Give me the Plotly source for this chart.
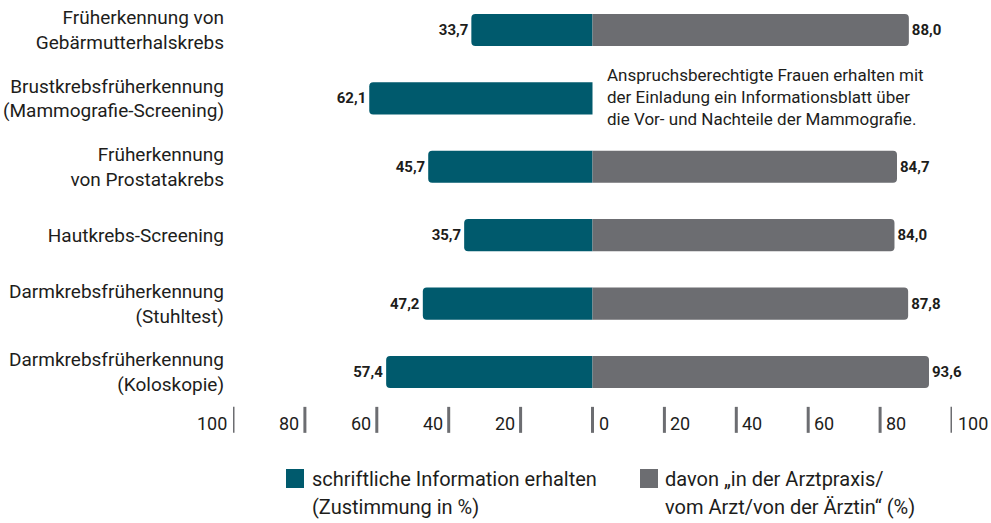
import plotly.graph_objects as go

categories = [
    "Früherkennung von<br>Gebärmutterhalskrebs",
    "Brustkrebsfrüherkennung<br>(Mammografie-Screening)",
    "Früherkennung<br>von Prostatakrebs",
    "Hautkrebs-Screening",
    "Darmkrebsfrüherkennung<br>(Stuhltest)",
    "Darmkrebsfrüherkennung<br>(Koloskopie)",
]
written_info = [33.7, 62.1, 45.7, 35.7, 47.2, 57.4]
in_practice = [88.0, None, 84.7, 84.0, 87.8, 93.6]
tick_values = [-100, -80, -60, -40, -20, 0, 20, 40, 60, 80, 100]
legend_lines = [["schriftliche Information erhalten", "(Zustimmung in %)"],
                ["davon „in der Arztpraxis/", "vom Arzt/von der Ärztin“ (%)"]]
note_text = ("Anspruchsberechtigte Frauen erhalten mit<br>"
             "der Einladung ein Informationsblatt über<br>"
             "die Vor- und Nachteile der Mammografie.")

TEAL = "#005a6d"
GRAY = "#6c6d71"
TXT = "#1d1d1b"
FONT = "Roboto, sans-serif"

W, H = 991, 523
L, R = 233, 952


def fmt(v):
    return "" if v is None else f"{v:.1f}".replace(".", ",")


def px(x):
    return (x - L) / (R - L)


def py(y):
    return 1 - y / H


rows = list(range(len(categories)))

fig = go.Figure()
fig.add_trace(go.Bar(
    y=rows, x=[-v for v in written_info], orientation="h",
    marker=dict(color=TEAL, cornerradius=4, line=dict(width=0)),
    width=0.47, name="schriftliche Information erhalten",
    text=[fmt(v) for v in written_info], textposition="outside",
    textfont=dict(family=FONT, size=15, color=TXT, weight="bold"),
    cliponaxis=False, showlegend=False, hoverinfo="skip",
))
fig.add_trace(go.Bar(
    y=rows, x=in_practice, orientation="h",
    marker=dict(color=GRAY, cornerradius=4, line=dict(width=0)),
    width=0.47, name="davon in der Arztpraxis",
    text=[fmt(v) for v in in_practice], textposition="outside",
    textfont=dict(family=FONT, size=15, color=TXT, weight="bold"),
    cliponaxis=False, showlegend=False, hoverinfo="skip",
))

# custom axis ticks (vertical bars with labels beside them)
tick_y0, tick_y1, tick_lab = 5.51, 5.89, 5.75
for v in tick_values:
    fig.add_shape(type="line", xref="x", yref="y", x0=v, x1=v,
                  y0=tick_y0, y1=tick_y1, line=dict(color=GRAY, width=3))
    neg = v < 0
    fig.add_annotation(x=v, y=tick_lab, xref="x", yref="y", text=str(abs(v)),
                       showarrow=False, xanchor="right" if neg else "left",
                       xshift=-4 if neg else 4,
                       font=dict(family=FONT, size=18, color=TXT))

# note for mammography row
fig.add_annotation(x=px(605), y=py(63), xref="paper", yref="paper",
                   text=note_text, showarrow=False, xanchor="left", yanchor="top",
                   align="left", font=dict(family=FONT, size=17, color=TXT))

# legend
for (sx, tx, col, lines) in [(286, 310, TEAL, legend_lines[0]),
                             (640, 663, GRAY, legend_lines[1])]:
    fig.add_shape(type="rect", xref="paper", yref="paper",
                  x0=px(sx), x1=px(sx + 18), y0=py(488), y1=py(469),
                  fillcolor=col, line=dict(width=0))
    for i, line in enumerate(lines):
        fig.add_annotation(x=px(tx), y=py(479 + 28 * i), xref="paper", yref="paper",
                           text=line, showarrow=False, xanchor="left",
                           yanchor="middle", align="left",
                           font=dict(family=FONT, size=20, color=TXT))

fig.update_layout(
    width=W, height=H, barmode="overlay",
    margin=dict(l=L, r=W - R, t=0, b=0, autoexpand=False),
    paper_bgcolor="white", plot_bgcolor="white",
    font=dict(family=FONT, color=TXT),
    xaxis=dict(range=[-100, 100], showgrid=False, zeroline=False,
               showticklabels=False, ticks="", automargin=False),
    yaxis=dict(range=[7.208, -0.4386], tickvals=rows, ticktext=categories,
               showgrid=False, zeroline=False, ticks="", automargin=False,
               ticklabelstandoff=8,
               tickfont=dict(family=FONT, size=19, color=TXT)),
)

fig.write_html("out.html",
               config={"displayModeBar": False},
               post_script="document.body.style.margin='0';"
                           "document.body.style.overflow='hidden';")
